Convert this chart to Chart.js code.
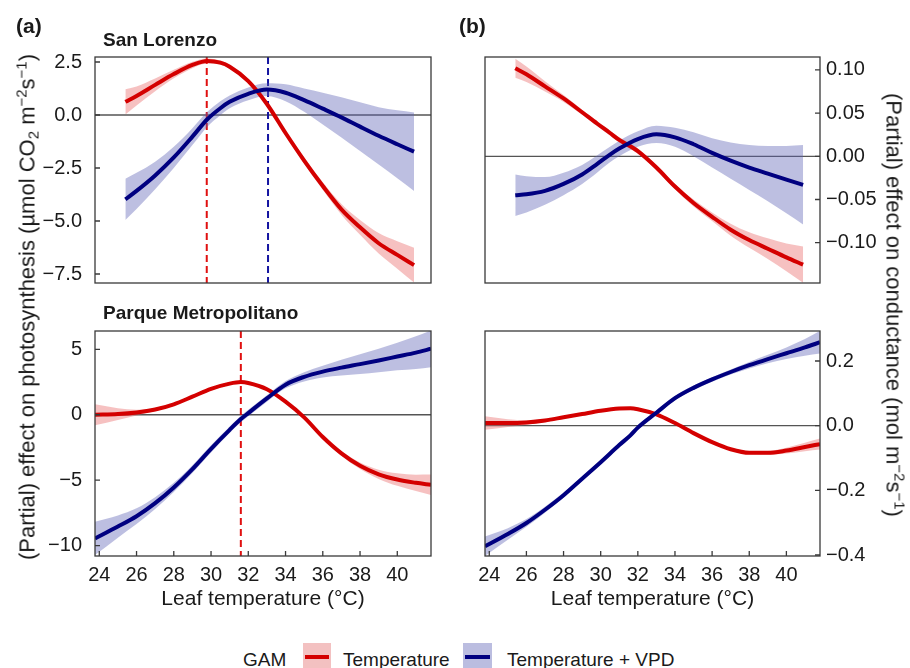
<!DOCTYPE html>
<html>
<head>
<meta charset="utf-8">
<script src="https://cdn.jsdelivr.net/npm/chart.js@4.4.1/dist/chart.umd.min.js"></script>
<style>
  body { margin: 0; background: #fff; width: 910px; height: 668px; position: relative; overflow: hidden;
         font-family: "Liberation Sans", Arial, sans-serif; color: #1a1a1a; }
  canvas { position: absolute; }
  .lab { position: absolute; white-space: nowrap; line-height: 1; }
  .b { font-weight: bold; }
  .rot { position: absolute; width: 0; height: 0; }
  .rot > span { position: absolute; white-space: nowrap; line-height: 1; font-size: 22px; }
  .sup { font-size: 15px; vertical-align: 8px; }
  .sub { font-size: 15px; vertical-align: -4px; }
  .key { position: absolute; top: 643px; height: 26px; }
  .key i { position: absolute; left: 2px; right: 2px; top: 12px; height: 4px; }
</style>
</head>
<body>
<canvas id="aTop" width="450" height="300" style="left:0;top:0"></canvas>
<canvas id="aBottom" width="450" height="330" style="left:0;top:300px"></canvas>
<canvas id="bTop" width="460" height="300" style="left:450px;top:0"></canvas>
<canvas id="bBottom" width="460" height="330" style="left:450px;top:300px"></canvas>

<div class="lab b" style="left:16px;top:15px;font-size:21px">(a)</div>
<div class="lab b" style="left:459px;top:15px;font-size:21px">(b)</div>
<div class="lab b" style="left:103px;top:30px;font-size:19px">San Lorenzo</div>
<div class="lab b" style="left:103px;top:302.5px;font-size:19px">Parque Metropolitano</div>

<div class="rot" style="left:27px;top:307px">
  <span style="transform:translate(-50%,-50%) rotate(-90deg)">(Partial) effect on photosynthesis (µmol CO<span class="sub">2</span> m<span class="sup">−2</span>s<span class="sup">−1</span>)</span>
</div>
<div class="rot" style="left:895px;top:305px">
  <span style="transform:translate(-50%,-50%) rotate(90deg)">(Partial) effect on conductance (mol m<span class="sup">−2</span>s<span class="sup">−1</span>)</span>
</div>

<div class="lab" style="left:243px;top:649.5px;font-size:19px">GAM</div>
<div class="key" style="left:303px;width:28px;background:#f3c1c1"><i style="background:#d40000"></i></div>
<div class="lab" style="left:343px;top:649.5px;font-size:19px">Temperature</div>
<div class="key" style="left:463px;width:29px;background:#bbbde0"><i style="background:#000080"></i></div>
<div class="lab" style="left:507px;top:649.5px;font-size:19px">Temperature + VPD</div>

<script>
// leaf temperature (°C) where each curve is sampled
const tempTop = [25.4, 26, 27, 28, 29, 29.8, 30.5, 31, 32, 33, 34, 35, 36, 37, 38, 39, 40, 40.9];
const tempBottom = [23.77, 25, 26, 27, 28, 29, 30, 31, 31.6, 32, 33, 34, 35, 36, 37, 38, 39, 40, 41, 41.81];
const xTicks = [24, 26, 28, 30, 32, 34, 36, 38, 40];

// San Lorenzo, photosynthesis
const slPhotoTemp = [0.62, 0.9, 1.42, 1.93, 2.36, 2.55, 2.47, 2.28, 1.6, 0.52, -0.85, -2.15, -3.35, -4.45, -5.3, -6.05, -6.6, -7.08];
const slPhotoTempSe = [0.6, 0.45, 0.3, 0.2, 0.15, 0.12, 0.1, 0.1, 0.1, 0.1, 0.12, 0.15, 0.18, 0.25, 0.35, 0.48, 0.65, 0.82];
const slPhotoVpd = [-3.98, -3.58, -2.85, -2.0, -1.02, -0.2, 0.32, 0.62, 1.0, 1.2, 1.05, 0.7, 0.3, -0.11, -0.55, -0.98, -1.38, -1.73];
const slPhotoVpdSe = [0.97, 0.85, 0.65, 0.5, 0.4, 0.35, 0.33, 0.3, 0.3, 0.3, 0.4, 0.55, 0.75, 0.95, 1.15, 1.35, 1.6, 1.85];
const slOptima = [29.77, 33.06];   // temperature model, temperature + VPD model
const slPhotoTicks = [-7.5, -5, -2.5, 0, 2.5];

// Parque Metropolitano, photosynthesis
const pmPhotoTemp = [0.0, 0.05, 0.17, 0.4, 0.8, 1.38, 1.98, 2.38, 2.5, 2.43, 1.95, 1.0, -0.2, -1.7, -2.95, -3.9, -4.55, -4.95, -5.2, -5.35];
const pmPhotoTempSe = [0.8, 0.45, 0.22, 0.12, 0.1, 0.1, 0.1, 0.1, 0.1, 0.1, 0.1, 0.1, 0.1, 0.12, 0.18, 0.25, 0.35, 0.48, 0.62, 0.78];
const pmPhotoVpd = [-9.45, -8.54, -7.75, -6.75, -5.55, -4.15, -2.6, -1.15, -0.33, 0.13, 1.25, 2.3, 2.9, 3.3, 3.6, 3.87, 4.15, 4.45, 4.75, 5.04];
const pmPhotoVpdSe = [1.27, 0.85, 0.6, 0.45, 0.35, 0.3, 0.28, 0.25, 0.25, 0.25, 0.25, 0.28, 0.35, 0.45, 0.6, 0.75, 0.9, 1.05, 1.25, 1.4];
const pmOptima = [31.6];
const pmPhotoTicks = [-10, -5, 0, 5];

// San Lorenzo, conductance
const slCondTemp = [0.102, 0.095, 0.081, 0.067, 0.051, 0.038, 0.027, 0.019, 0.006, -0.013, -0.035, -0.054, -0.070, -0.085, -0.097, -0.107, -0.117, -0.1255];
const slCondTempSe = [0.011, 0.009, 0.006, 0.004, 0.003, 0.003, 0.003, 0.003, 0.003, 0.003, 0.003, 0.004, 0.005, 0.007, 0.009, 0.012, 0.016, 0.021];
const slCondVpd = [-0.045, -0.044, -0.040, -0.032, -0.021, -0.009, 0.002, 0.009, 0.020, 0.0255, 0.022, 0.014, 0.004, -0.005, -0.013, -0.020, -0.027, -0.033];
const slCondVpdSe = [0.024, 0.021, 0.016, 0.013, 0.011, 0.010, 0.009, 0.009, 0.009, 0.010, 0.011, 0.014, 0.017, 0.021, 0.026, 0.032, 0.039, 0.046];
const slCondTicks = [-0.1, -0.05, 0, 0.05, 0.1];

// Parque Metropolitano, conductance
const pmCondTemp = [0.008, 0.008, 0.01, 0.016, 0.026, 0.036, 0.046, 0.053, 0.054, 0.051, 0.035, 0.008, -0.023, -0.051, -0.073, -0.084, -0.084, -0.077, -0.066, -0.057];
const pmCondTempSe = [0.021, 0.012, 0.007, 0.005, 0.004, 0.004, 0.004, 0.004, 0.004, 0.004, 0.004, 0.004, 0.004, 0.004, 0.004, 0.005, 0.006, 0.009, 0.013, 0.017];
const pmCondVpd = [-0.373, -0.335, -0.301, -0.26, -0.215, -0.164, -0.113, -0.06, -0.03, -0.006, 0.04, 0.085, 0.117, 0.143, 0.166, 0.187, 0.206, 0.224, 0.242, 0.258];
const pmCondVpdSe = [0.03, 0.018, 0.012, 0.009, 0.008, 0.007, 0.007, 0.007, 0.007, 0.007, 0.007, 0.007, 0.007, 0.007, 0.008, 0.01, 0.013, 0.018, 0.026, 0.035];
const pmCondTicks = [-0.4, -0.2, 0, 0.2];

const RED = '#d40000', NAVY = '#000080';
const RED_BAND = 'rgba(232,100,100,0.4)', BLUE_BAND = 'rgba(90,95,180,0.4)';

Chart.defaults.font.family = '"Liberation Sans", Arial, sans-serif';
Chart.defaults.font.size = 20;
Chart.defaults.color = '#1a1a1a';

// box, inward ticks, zero line and dashed optimum lines
const framePlugin = {
  id: 'frame',
  beforeDatasetsDraw(chart, args, opts) {
    const { ctx, chartArea: a, scales: { x, y } } = chart;
    ctx.save();
    const y0 = y.getPixelForValue(0);
    ctx.strokeStyle = '#555';
    ctx.lineWidth = 1.3;
    ctx.beginPath(); ctx.moveTo(a.left, y0); ctx.lineTo(a.right, y0); ctx.stroke();
    ctx.lineWidth = 2;
    ctx.setLineDash([7, 4]);
    (opts.optima || []).forEach((t, i) => {
      const px = x.getPixelForValue(t);
      ctx.strokeStyle = i === 0 ? '#e01010' : '#1414a0';
      ctx.beginPath(); ctx.moveTo(px, a.top); ctx.lineTo(px, a.bottom); ctx.stroke();
    });
    ctx.restore();
  },
  afterDraw(chart, args, opts) {
    const { ctx, chartArea: a, scales: { x, y } } = chart;
    ctx.save();
    ctx.strokeStyle = '#3a3a3a';
    ctx.lineWidth = 1.3;
    ctx.strokeRect(a.left, a.top, a.right - a.left, a.bottom - a.top);
    ctx.beginPath();
    y.ticks.forEach(t => {
      const py = y.getPixelForValue(t.value);
      if (opts.right) { ctx.moveTo(a.right, py); ctx.lineTo(a.right - 5, py); }
      else { ctx.moveTo(a.left, py); ctx.lineTo(a.left + 5, py); }
    });
    if (opts.showX) {
      x.ticks.forEach(t => {
        const px = x.getPixelForValue(t.value);
        ctx.moveTo(px, a.bottom); ctx.lineTo(px, a.bottom - 5);
      });
    }
    ctx.stroke();
    ctx.restore();
  }
};

function fmt(v, dec) {
  const s = Math.abs(v).toFixed(dec);
  return (v < -1e-9 ? '\u2212' : '') + s;
}

// keep the plot box exactly where the layout padding puts it
function noEdgePadding(s) {
  s.paddingTop = 0; s.paddingBottom = 0; s.paddingLeft = 0; s.paddingRight = 0;
}

function panel(id, o) {
  const band = (ys, se, sign) => o.xs.map((x, i) => ({ x, y: ys[i] + sign * se[i] }));
  const line = ys => o.xs.map((x, i) => ({ x, y: ys[i] }));
  const base = { pointRadius: 0, borderWidth: 0, fill: false };
  const datasets = [
    { ...base, data: band(o.temp, o.tempSe, -1), order: 4 },
    { ...base, data: band(o.temp, o.tempSe, 1), fill: '-1', backgroundColor: RED_BAND, order: 4 },
    { ...base, data: band(o.vpd, o.vpdSe, -1), order: 3 },
    { ...base, data: band(o.vpd, o.vpdSe, 1), fill: '-1', backgroundColor: BLUE_BAND, order: 3 },
    { ...base, label: 'Temperature', data: line(o.temp), borderColor: RED, borderWidth: 4, order: 2 },
    { ...base, label: 'Temperature + VPD', data: line(o.vpd), borderColor: NAVY, borderWidth: 4, order: 1 }
  ];
  new Chart(document.getElementById(id), {
    type: 'line',
    data: { datasets },
    options: {
      responsive: false,
      animation: false,
      events: [],
      layout: { padding: o.padding },
      elements: { line: { cubicInterpolationMode: 'monotone', borderCapStyle: 'butt' } },
      plugins: {
        legend: { display: false },
        tooltip: { enabled: false },
        frame: { optima: o.optima, right: o.right, showX: o.showX }
      },
      scales: {
        x: {
          type: 'linear',
          min: 23.77,
          max: 41.81,
          display: o.showX,
          afterBuildTicks: s => { s.ticks = xTicks.map(v => ({ value: v })); },
          afterFit: s => { if (o.showX) s.height = 74; noEdgePadding(s); },
          grid: { display: false, drawTicks: false },
          border: { display: false },
          ticks: { padding: 7, autoSkip: false, maxRotation: 0, font: { size: 20 } },
          title: { display: o.showX, text: 'Leaf temperature (°C)', font: { size: 21 }, padding: { top: 0, bottom: 18 } }
        },
        y: {
          type: 'linear',
          position: o.right ? 'right' : 'left',
          min: o.yMin,
          max: o.yMax,
          afterBuildTicks: s => { s.ticks = o.yTicks.map(v => ({ value: v })); },
          afterFit: s => { s.width = o.yWidth; noEdgePadding(s); },
          grid: { display: false, drawTicks: false },
          border: { display: false },
          ticks: { padding: o.right ? 6 : 13, autoSkip: false, font: { size: 20 }, callback: v => fmt(v, o.dec) }
        }
      }
    },
    plugins: [framePlugin]
  });
}

panel('aTop', {
  xs: tempTop, temp: slPhotoTemp, tempSe: slPhotoTempSe, vpd: slPhotoVpd, vpdSe: slPhotoVpdSe,
  optima: slOptima, yTicks: slPhotoTicks, dec: 1, yMin: -7.925, yMax: 2.736,
  right: false, showX: false, yWidth: 95, padding: { left: 0, right: 19, top: 57, bottom: 17 }
});
panel('aBottom', {
  xs: tempBottom, temp: pmPhotoTemp, tempSe: pmPhotoTempSe, vpd: pmPhotoVpd, vpdSe: pmPhotoVpdSe,
  optima: pmOptima, yTicks: pmPhotoTicks, dec: 0, yMin: -10.79, yMax: 6.4,
  right: false, showX: true, yWidth: 95, padding: { left: 0, right: 19, top: 31, bottom: 0 }
});
panel('bTop', {
  xs: tempTop, temp: slCondTemp, tempSe: slCondTempSe, vpd: slCondVpd, vpdSe: slCondVpdSe,
  optima: [], yTicks: slCondTicks, dec: 2, yMin: -0.1467, yMax: 0.115,
  right: true, showX: false, yWidth: 90, padding: { left: 35, right: 0, top: 57, bottom: 17 }
});
panel('bBottom', {
  xs: tempBottom, temp: pmCondTemp, tempSe: pmCondTempSe, vpd: pmCondVpd, vpdSe: pmCondVpdSe,
  optima: [], yTicks: pmCondTicks, dec: 1, yMin: -0.4031, yMax: 0.2928,
  right: true, showX: true, yWidth: 90, padding: { left: 35, right: 0, top: 31, bottom: 0 }
});
</script>
</body>
</html>
